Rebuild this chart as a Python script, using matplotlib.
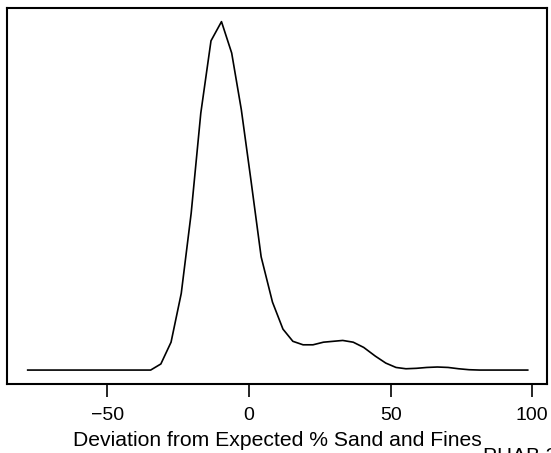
import matplotlib
matplotlib.use('Agg')
import matplotlib.pyplot as plt

plt.rcParams['font.family'] = ['Liberation Sans', 'DejaVu Sans']

# density estimate
dev = [-78.1, -34.7, -31.1, -27.5, -23.9, -20.4, -17.0, -13.4, -9.7, -6.1,
       -2.7, 0.7, 4.3, 8.3, 12.0, 15.5, 19.1, 22.6, 26.3, 33.1,
       36.8, 40.5, 44.6, 48.3, 51.9, 55.4, 59.1, 62.8, 66.5, 70.3,
       74.0, 77.7, 81.4, 98.4]
dens = [0.0, 0.0, 0.0007, 0.0032, 0.0088, 0.0180, 0.0295, 0.0378, 0.0400, 0.0364,
        0.0299, 0.0218, 0.0130, 0.0078, 0.0047, 0.0033, 0.0029, 0.0029, 0.0032, 0.0034,
        0.0032, 0.0026, 0.0016, 0.0008, 0.0003, 0.00015, 0.0002, 0.0003, 0.00035, 0.0003,
        0.00015, 0.00004, 0.0, 0.0]
xticks = [-50, 0, 50, 100]
xlabel = 'Deviation from Expected % Sand and Fines'
corner = 'PHAB 3'

fig = plt.figure(figsize=(5.51, 4.53), dpi=100)
ax = fig.add_axes([7.3 / 551, 1 - 384 / 453, 539.7 / 551, 376.3 / 453])
ax.plot(dev, dens, color='black', lw=1.2)
ax.set_xlim(-85.3, 105.2)
top = max(dens)
ax.set_ylim(-0.04 * top, 1.04 * top)
ax.set_yticks([])
ax.set_xticks(xticks)
ax.tick_params(axis='x', length=9.4, width=1.2, pad=7.5, labelsize=14)
for s in ax.spines.values():
    s.set_linewidth(1.5)
ax.set_xlabel(xlabel, fontsize=15.2, labelpad=5)
fig.text(483 / 551, 1 - 447 / 453, corner, fontsize=15, va='top', ha='left')

fig.savefig('out.png', dpi=100)
